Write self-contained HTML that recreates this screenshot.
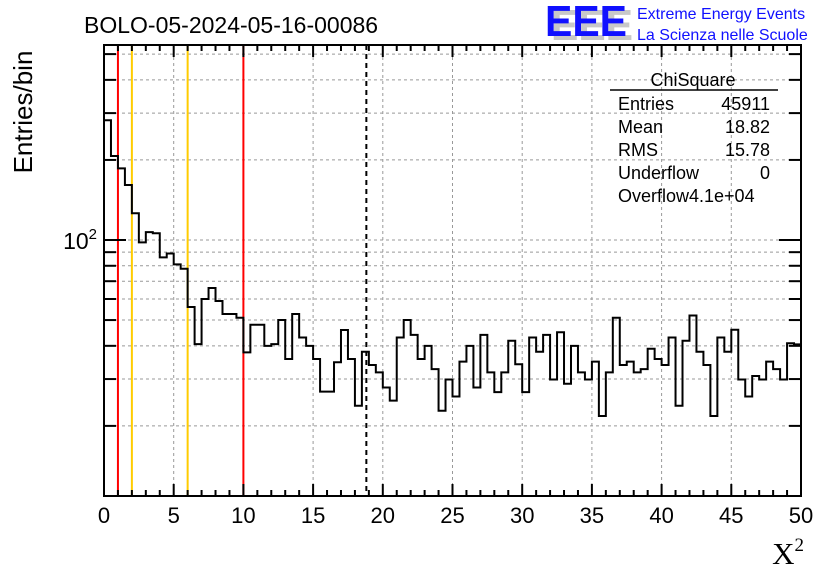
<!DOCTYPE html>
<html><head><meta charset="utf-8"><style>
html,body{margin:0;padding:0;background:#fff;}
svg{display:block;font-family:"Liberation Sans",sans-serif;}
</style></head><body>
<svg id="chart" width="836" height="572" viewBox="0 0 836 572">
<rect width="836" height="572" fill="#fff"/>
<g id="grid"></g>
<g id="vlines"></g>
<path id="hist" fill="none" stroke="#000" stroke-width="2"/>
<g id="axes"></g>
<text x="84" y="33" font-size="23">BOLO-05-2024-05-16-00086</text>
<text transform="translate(32,112) rotate(-90)" text-anchor="middle" font-size="26">Entries/bin</text>
<text x="804" y="564" text-anchor="end" font-size="31" font-family="Liberation Serif,serif">X<tspan font-size="19" dy="-13">2</tspan></text>
<g>
<text x="551" y="40" font-size="44" font-weight="bold" fill="#c8c8c8" textLength="82" lengthAdjust="spacingAndGlyphs">EEE</text>
<text x="545" y="36" font-size="44" font-weight="bold" fill="#1010ff" textLength="82" lengthAdjust="spacingAndGlyphs">EEE</text>
<text x="637" y="19" font-size="16" fill="#1010ff">Extreme Energy Events</text>
<text x="637" y="40" font-size="16" fill="#1010ff">La Scienza nelle Scuole</text>
</g>
<g font-size="18">
<text x="693" y="86" text-anchor="middle">ChiSquare</text>
<line x1="610" y1="90" x2="778" y2="90" stroke="#000" stroke-width="1.5"/>
<text x="618" y="110">Entries</text><text x="770" y="110" text-anchor="end">45911</text>
<text x="618" y="133">Mean</text><text x="770" y="133" text-anchor="end">18.82</text>
<text x="618" y="156">RMS</text><text x="770" y="156" text-anchor="end">15.78</text>
<text x="618" y="179">Underflow</text><text x="770" y="179" text-anchor="end">0</text>
<text x="618" y="202">Overflow4.1e+04</text>
</g>
</svg>
<script>
const binValues=[282,207,186,161,126,98,107,106,86,89,81,78,56,40.6,60,66,59,52.7,52.7,51,
37.8,48,48,40,40.6,50,35.7,52.7,43,40,35.7,26.9,26.9,34.7,45.9,35.7,23.8,38,33.9,31.8,
27.9,24.9,43,50,44,35.7,40,32.7,22.8,29.9,25.8,34.9,40,27.9,44,31.8,26.8,31.8,41.8,34.1,
26.8,43,38,44,29.9,45,28.8,40,31.8,29.9,34.9,21.8,31.8,51,33.9,34.9,31.8,32.7,39,35.7,
33.9,43,23.8,41.8,52,38,33.9,21.8,43,38,46,29.9,25.8,30.8,29.9,34.9,32.7,29.9,40.9,40.5];
const xRange=[0,50];
const yRange=[10.9,541];
const xTickLabels=[0,5,10,15,20,25,30,35,40,45,50];
const redLines=[1,10];
const orangeLines=[2,6];
const meanLine=[18.82];
const NS="http://www.w3.org/2000/svg";
const L=104,R=801,T=45,B=496;
function xs(v){return L+(v-xRange[0])/(xRange[1]-xRange[0])*(R-L);}
function ys(v){const a=Math.log10(yRange[0]),b=Math.log10(yRange[1]);return B-(Math.log10(v)-a)/(b-a)*(B-T);}
function mk(tag,attrs,parent){const e=document.createElementNS(NS,tag);for(const k in attrs)e.setAttribute(k,attrs[k]);parent.appendChild(e);return e;}
const grid=document.getElementById('grid'),axes=document.getElementById('axes'),vl=document.getElementById('vlines');
const ga={stroke:"#999","stroke-width":1,"stroke-dasharray":"3,3"};
xTickLabels.forEach(v=>{if(v>0&&v<50){const l=mk('line',Object.assign({x1:xs(v),x2:xs(v),y1:T,y2:B},ga),grid);

}});
const yMinor=[20,30,40,50,60,70,80,90,100,200,300,400,500];
yMinor.forEach(v=>{const l=mk('line',Object.assign({x1:L,x2:R,y1:ys(v),y2:ys(v)},ga),grid);

});
redLines.forEach(v=>{const l=mk('line',{x1:xs(v),x2:xs(v),y1:T,y2:B,stroke:"#ff0000","stroke-width":2},vl);

});
orangeLines.forEach(v=>{const l=mk('line',{x1:xs(v),x2:xs(v),y1:T,y2:B,stroke:"#ffcc00","stroke-width":2},vl);

});
meanLine.forEach(v=>{const l=mk('line',{x1:xs(v),x2:xs(v),y1:T,y2:B,stroke:"#000","stroke-width":2,"stroke-dasharray":"5,4"},vl);

});
const bw=(xRange[1]-xRange[0])/binValues.length;
let d="M"+xs(0)+","+B;
binValues.forEach((v,i)=>{d+=" L"+xs(i*bw)+","+ys(v)+" L"+xs((i+1)*bw)+","+ys(v);});
d+=" L"+xs(xRange[1])+","+ys(binValues[binValues.length-1]);
document.getElementById('hist').setAttribute('d',d);
const fr=mk('rect',{x:L,y:T,width:R-L,height:B-T,fill:"none",stroke:"#000","stroke-width":2},axes);


for(let v=0;v<=50;v++){const len=v%5===0?12:6;
mk('line',{x1:xs(v),x2:xs(v),y1:B,y2:B-len,stroke:"#000","stroke-width":2},axes);
mk('line',{x1:xs(v),x2:xs(v),y1:T,y2:T+len,stroke:"#000","stroke-width":2},axes);}
xTickLabels.forEach(v=>{const t=mk('text',{x:xs(v),y:B+27,"text-anchor":"middle","font-size":22},axes);t.textContent=v;

});
yMinor.forEach(v=>{const len=v===100?22:12;
mk('line',{x1:L,x2:L+len,y1:ys(v),y2:ys(v),stroke:"#000","stroke-width":2},axes);
mk('line',{x1:R,x2:R-len,y1:ys(v),y2:ys(v),stroke:"#000","stroke-width":2},axes);});
const yl=mk('text',{x:97,y:ys(100)+9,"text-anchor":"end","font-size":23},axes);
yl.innerHTML='10<tspan font-size="15" dy="-10">2</tspan>';


</script>
</body></html>
